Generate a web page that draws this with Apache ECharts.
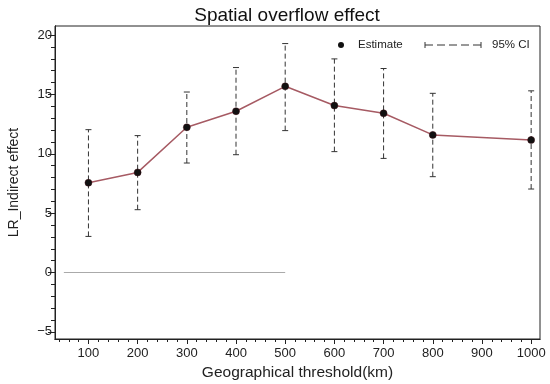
<!DOCTYPE html>
<html>
<head>
<meta charset="utf-8">
<script src="https://cdn.jsdelivr.net/npm/echarts@6/dist/echarts.min.js"></script>
<style>html,body{margin:0;padding:0;background:#fff;}#c{width:550px;height:384px;}</style>
</head>
<body>
<div id="c"></div>
<script>
const thresholds = [100, 200, 300, 400, 500, 600, 700, 800, 1000];
const estimates  = [7.56, 8.43, 12.23, 13.58, 15.68, 14.06, 13.41, 11.59, 11.16];
const ciLow      = [3.04, 5.29, 9.22, 9.92, 11.95, 10.18, 9.61, 8.07, 7.03];
const ciHigh     = [12.03, 11.53, 15.2, 17.26, 19.28, 17.99, 17.18, 15.09, 15.3];
const xTicks = [100, 200, 300, 400, 500, 600, 700, 800, 900, 1000];
const yTicks = [-5, 0, 5, 10, 15, 20];
const xMinorTicks = [];
for (let v = 40; v <= 1010; v += 20) xMinorTicks.push(v);
const yMinorTicks = [];
for (let v = -5; v <= 20; v += 1) yMinorTicks.push(v);
const zeroLine = [[50, 0], [500, 0]];

const XMIN = 32, XMAX = 1018, YMIN = -5.6, YMAX = 20.76;
const font = 'Liberation Sans, Arial, sans-serif';
const dark = '#222';
const fmt = v => String(v).replace('-', '\u2212');

const chart = echarts.init(document.getElementById('c'));
const baseX = {
  type: 'value', min: XMIN, max: XMAX, splitLine: { show: false },
  axisLine: { show: true, onZero: false, lineStyle: { color: dark } }
};
const baseY = {
  type: 'value', min: YMIN, max: YMAX, splitLine: { show: false },
  axisLine: { show: true, onZero: false, lineStyle: { color: dark } }
};
chart.setOption({
  animation: false,
  backgroundColor: '#fff',
  title: {
    text: 'Spatial overflow effect', left: 282, top: 1, textAlign: 'center',
    textStyle: { fontFamily: font, fontSize: 19, fontWeight: 'normal', color: '#111' }
  },
  grid: { left: 55, right: 10, top: 26, bottom: 45, show: true, borderColor: dark, borderWidth: 1, backgroundColor: 'transparent', containLabel: false, outerBoundsMode: 'none' },
  xAxis: [
    Object.assign({}, baseX, {
      name: 'Geographical threshold(km)', nameLocation: 'middle', nameGap: 26,
      nameTextStyle: { fontFamily: font, fontSize: 15.5, color: dark },
      axisTick: { show: true, length: 5, inside: false, customValues: xTicks, lineStyle: { color: dark } },
      axisLabel: { customValues: xTicks, formatter: fmt, fontFamily: font, fontSize: 13, color: dark, margin: 8 }
    }),
    Object.assign({}, baseX, {
      position: 'bottom',
      axisTick: { show: true, length: 3, inside: false, customValues: xMinorTicks, lineStyle: { color: dark } },
      axisLabel: { show: false }
    })
  ],
  yAxis: [
    Object.assign({}, baseY, {
      name: 'LR_Indirect effect', nameLocation: 'middle', nameGap: 34, nameRotate: 90,
      nameTextStyle: { fontFamily: font, fontSize: 14, color: dark },
      axisTick: { show: true, length: 7, inside: false, customValues: yTicks, lineStyle: { color: dark } },
      axisLabel: { customValues: yTicks, formatter: fmt, fontFamily: font, fontSize: 13, color: dark, margin: 3 }
    }),
    Object.assign({}, baseY, {
      position: 'left',
      axisTick: { show: true, length: 4, inside: false, customValues: yMinorTicks, lineStyle: { color: dark } },
      axisLabel: { show: false }
    })
  ],
  series: [
    {
      type: 'custom', name: '95% CI', xAxisIndex: 0, yAxisIndex: 0, z: 2,
      data: thresholds.map((x, i) => [x, ciLow[i], ciHigh[i]]),
      renderItem: function (params, api) {
        const lo = api.coord([api.value(0), api.value(1)]);
        const hi = api.coord([api.value(0), api.value(2)]);
        const hw = 3;
        const st = { stroke: '#333', lineWidth: 1 };
        return {
          type: 'group',
          children: [
            { type: 'line', shape: { x1: lo[0], y1: lo[1], x2: hi[0], y2: hi[1] }, style: Object.assign({ lineDash: [5, 3] }, st) },
            { type: 'line', shape: { x1: lo[0] - hw, y1: lo[1], x2: lo[0] + hw, y2: lo[1] }, style: st },
            { type: 'line', shape: { x1: hi[0] - hw, y1: hi[1], x2: hi[0] + hw, y2: hi[1] }, style: st }
          ]
        };
      }
    },
    {
      type: 'line', name: 'Estimate', xAxisIndex: 0, yAxisIndex: 0, z: 3,
      data: thresholds.map((x, i) => [x, estimates[i]]),
      symbol: 'circle', symbolSize: 7,
      lineStyle: { color: '#a65a63', width: 1.5 },
      itemStyle: { color: '#111', borderColor: '#3a0a10', borderWidth: 0.5 },
      markLine: {
        silent: true, symbol: 'none', label: { show: false },
        lineStyle: { color: '#aaa', type: 'solid', width: 1 },
        data: [[{ coord: zeroLine[0] }, { coord: zeroLine[1] }]]
      }
    }
  ],
  graphic: [
    { type: 'circle', shape: { cx: 341, cy: 45, r: 3 }, style: { fill: '#111' } },
    { type: 'text', x: 358, y: 45, style: { text: 'Estimate', fontFamily: font, fontSize: 11.5, fill: dark, verticalAlign: 'middle' } },
    { type: 'line', shape: { x1: 425, y1: 45, x2: 481, y2: 45 }, style: { stroke: '#333', lineWidth: 1, lineDash: [8, 4] } },
    { type: 'line', shape: { x1: 425, y1: 42, x2: 425, y2: 48 }, style: { stroke: '#333', lineWidth: 1 } },
    { type: 'line', shape: { x1: 481, y1: 42, x2: 481, y2: 48 }, style: { stroke: '#333', lineWidth: 1 } },
    { type: 'text', x: 492, y: 45, style: { text: '95% CI', fontFamily: font, fontSize: 11.5, fill: dark, verticalAlign: 'middle' } }
  ]
});
</script>
</body>
</html>
